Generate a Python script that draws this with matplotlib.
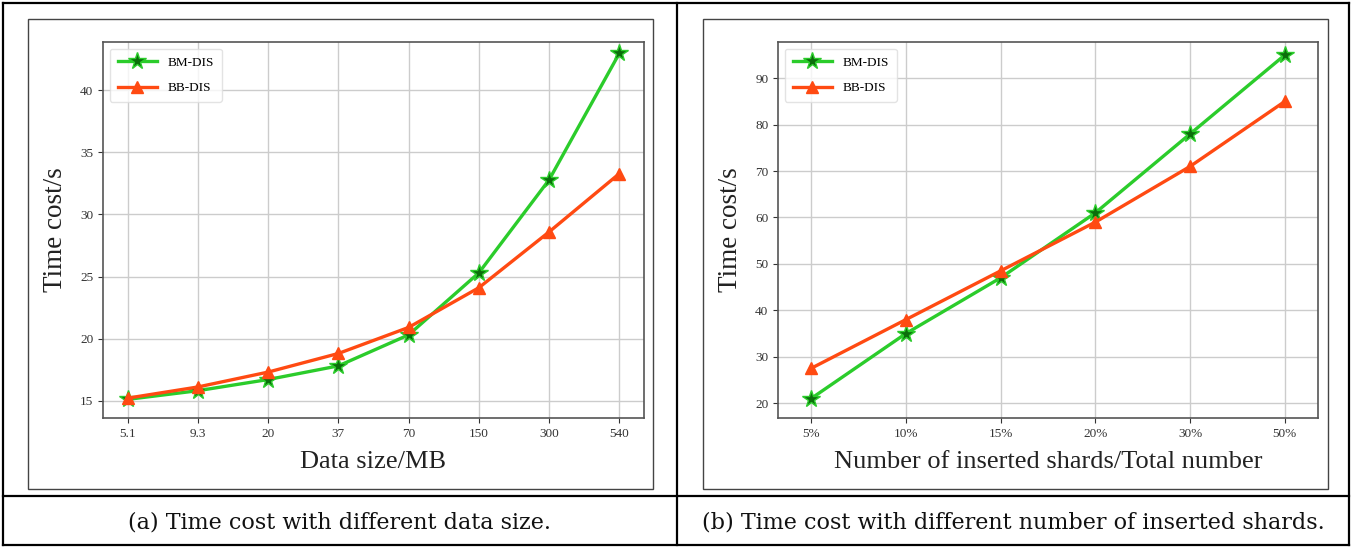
import matplotlib

matplotlib.use("Agg")

import matplotlib.pyplot as plt
from matplotlib.lines import Line2D
from matplotlib.patches import Rectangle

W, H = 1352, 548
DPI = 100

# panel (a)
size_labels = ["5.1", "9.3", "20", "37", "70", "150", "300", "540"]
bm_size = [15.1, 15.8, 16.7, 17.8, 20.3, 25.3, 32.8, 43.0]
bb_size = [15.2, 16.1, 17.3, 18.8, 20.9, 24.1, 28.6, 33.3]

# panel (b)
shard_labels = ["5%", "10%", "15%", "20%", "30%", "50%"]
bm_shard = [21.0, 35.0, 47.0, 61.0, 78.0, 95.0]
bb_shard = [27.5, 38.0, 48.5, 59.0, 71.0, 85.0]

captions = [
    "(a) Time cost with different data size.",
    "(b) Time cost with different number of inserted shards.",
]

GREEN = "#2bcc2b"
DARK_GREEN = "#0b6e0b"
RED = "#ff4a12"

plt.rcParams.update(
    {
        "font.family": ["Liberation Serif", "DejaVu Serif"],
        "axes.unicode_minus": False,
    }
)

fig = plt.figure(figsize=(W / DPI, H / DPI), dpi=DPI, facecolor="white")


def px_rect(left, top, right, bottom):
    return [left / W, 1 - bottom / H, (right - left) / W, (bottom - top) / H]


def fig_line(x0, y0, x1, y1, lw=1.6, color="black"):
    fig.add_artist(
        Line2D([x0 / W, x1 / W], [1 - y0 / H, 1 - y1 / H],
               transform=fig.transFigure, color=color, linewidth=lw)
    )


# table frame
fig_line(3, 3, 1349, 3)
fig_line(3, 545, 1349, 545)
fig_line(3, 3, 3, 545)
fig_line(1349, 3, 1349, 545)
fig_line(677, 3, 677, 545)
fig_line(3, 496, 1349, 496)

# inner picture borders
for left, right in [(28, 653), (703, 1328)]:
    fig.add_artist(
        Rectangle((left / W, 1 - 489 / H), (right - left) / W, (489 - 19) / H,
                  transform=fig.transFigure, fill=False,
                  edgecolor="#444444", linewidth=1.0)
    )

panels = [
    dict(rect=px_rect(103, 42, 644, 418), labels=size_labels, bm=bm_size,
         bb=bb_size, ylim=(13.6, 43.9), yticks=[15, 20, 25, 30, 35, 40],
         xlabel="Data size/MB"),
    dict(rect=px_rect(778, 42, 1318, 418), labels=shard_labels, bm=bm_shard,
         bb=bb_shard, ylim=(16.8, 97.8), yticks=[20, 30, 40, 50, 60, 70, 80, 90],
         xlabel="Number of inserted shards/Total number"),
]

for p in panels:
    ax = fig.add_axes(p["rect"])
    x = list(range(len(p["labels"])))
    ax.plot(x, p["bm"], color=GREEN, linewidth=2.4, marker="*",
            markersize=13, markerfacecolor=DARK_GREEN,
            markeredgecolor=GREEN, markeredgewidth=1.0, label="BM-DIS")
    ax.plot(x, p["bb"], color=RED, linewidth=2.4, marker="^",
            markersize=9, markerfacecolor=RED, markeredgecolor=RED,
            label="BB-DIS")
    ax.set_xticks(x)
    ax.set_xticklabels(p["labels"])
    ax.set_yticks(p["yticks"])
    ax.set_ylim(*p["ylim"])
    ax.set_xlim(-0.35, len(x) - 1 + 0.35)
    ax.grid(True, color="#cccccc", linewidth=1.0)
    ax.set_axisbelow(True)
    for s in ax.spines.values():
        s.set_color("#555555")
        s.set_linewidth(1.2)
    ax.tick_params(labelsize=9.5, colors="#333333", length=3.5)
    ax.set_xlabel(p["xlabel"], fontsize=19, color="#222222", labelpad=8)
    ax.set_ylabel("Time cost/s", fontsize=19.5, color="#222222", labelpad=9)
    ax.legend(loc="upper left", fontsize=9.5, frameon=True,
              edgecolor="#dddddd", handlelength=3.0, borderpad=0.6,
              labelspacing=1.0)

for cap, cx in zip(captions, [340, 1013]):
    fig.text(cx / W, 1 - 522 / H, cap, ha="center", va="center",
             fontsize=16, family=["DejaVu Serif"], color="#111111")

fig.savefig("out.png", dpi=DPI, facecolor="white")
